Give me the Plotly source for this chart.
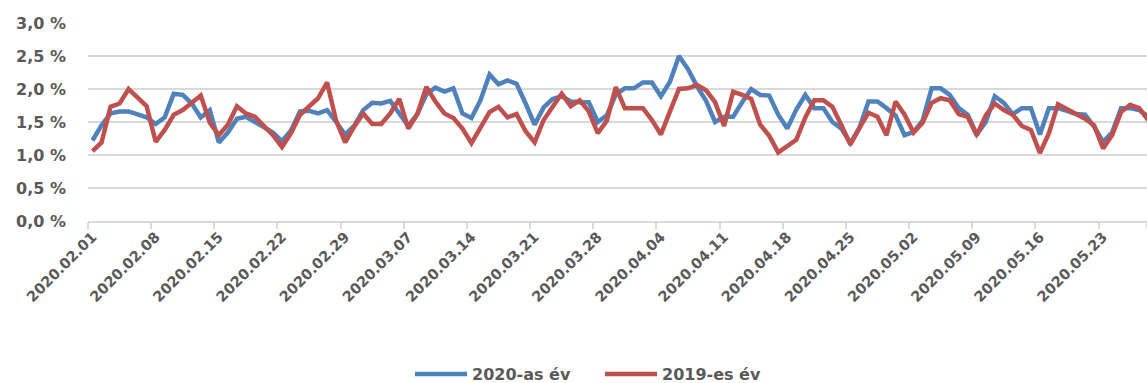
import pandas as pd
import plotly.graph_objects as go

# Daily dates, 2020.02.01 - 2020.05.28
dates = pd.date_range("2020-02-01", "2020-05-28", freq="D")

share_2020 = [
    1.22, 1.45, 1.63, 1.66, 1.66, 1.61, 1.57, 1.47, 1.57, 1.93,
    1.91, 1.78, 1.57, 1.68, 1.19, 1.34, 1.55, 1.58, 1.50, 1.43,
    1.34, 1.21, 1.37, 1.66, 1.67, 1.63, 1.68, 1.50, 1.31, 1.44,
    1.68, 1.79, 1.78, 1.82, 1.62, 1.44, 1.62, 1.92, 2.02, 1.96,
    2.01, 1.63, 1.56, 1.83, 2.22, 2.07, 2.13, 2.08, 1.78, 1.46,
    1.72, 1.85, 1.89, 1.81, 1.80, 1.80, 1.50, 1.60, 1.92, 2.01,
    2.01, 2.10, 2.10, 1.89, 2.11, 2.50, 2.30, 2.04, 1.82, 1.50,
    1.58, 1.58, 1.80, 2.00, 1.91, 1.90, 1.61, 1.40, 1.69, 1.91,
    1.71, 1.71, 1.50, 1.40, 1.18, 1.41, 1.81, 1.81, 1.71, 1.60,
    1.30, 1.35, 1.52, 2.01, 2.01, 1.91, 1.71, 1.61, 1.31, 1.50,
    1.89, 1.79, 1.62, 1.71, 1.71, 1.31, 1.71, 1.71, 1.67, 1.62,
    1.61, 1.43, 1.20, 1.34, 1.71, 1.71, 1.68, 1.58,
]

share_2019 = [
    1.06, 1.19, 1.73, 1.78, 2.00, 1.86, 1.74, 1.20, 1.38, 1.61,
    1.68, 1.79, 1.90, 1.49, 1.30, 1.46, 1.74, 1.63, 1.58, 1.44,
    1.30, 1.12, 1.33, 1.61, 1.73, 1.86, 2.10, 1.52, 1.19, 1.43,
    1.63, 1.47, 1.47, 1.63, 1.85, 1.40, 1.62, 2.03, 1.81, 1.63,
    1.56, 1.40, 1.18, 1.41, 1.65, 1.73, 1.57, 1.62, 1.36, 1.19,
    1.53, 1.73, 1.93, 1.74, 1.83, 1.66, 1.33, 1.52, 2.03, 1.71,
    1.71, 1.71, 1.53, 1.31, 1.66, 2.00, 2.01, 2.06, 1.98, 1.80,
    1.44, 1.96, 1.91, 1.85, 1.46, 1.29, 1.04, 1.13, 1.23, 1.57,
    1.83, 1.83, 1.73, 1.45, 1.16, 1.41, 1.64, 1.58, 1.30, 1.81,
    1.61, 1.34, 1.49, 1.79, 1.86, 1.83, 1.62, 1.58, 1.30, 1.60,
    1.78, 1.68, 1.61, 1.44, 1.38, 1.03, 1.33, 1.77, 1.69, 1.62,
    1.55, 1.45, 1.10, 1.30, 1.65, 1.76, 1.71, 1.53,
]

y_ticks = [0.0, 0.5, 1.0, 1.5, 2.0, 2.5, 3.0]
y_ticktext = [f"{v:.1f} %".replace(".", ",") for v in y_ticks]

x_tickvals = list(dates[::7])
x_ticktext = [d.strftime("%Y.%m.%d") for d in x_tickvals]

TEXT = "#595959"
GRID = "#D9D9D9"
FONT = "DejaVu Sans"

fig = go.Figure()
fig.add_trace(go.Scatter(
    x=dates, y=share_2020, mode="lines", name="2020-as év",
    line=dict(color="#4F81BD", width=4.5),
))
fig.add_trace(go.Scatter(
    x=dates, y=share_2019, mode="lines", name="2019-es év",
    line=dict(color="#C0504D", width=4.5),
))

x_start = pd.Timestamp("2020-01-31 12:00")
x_end = x_start + pd.Timedelta(days=117.37)

fig.update_layout(
    width=1147, height=383,
    margin=dict(l=88, r=0, t=23, b=162),
    paper_bgcolor="white", plot_bgcolor="white",
    font=dict(family=FONT, color=TEXT, size=16, weight="bold"),
    showlegend=True,
    legend=dict(
        orientation="h", x=410 / 1147, xanchor="left",
        y=9 / 383, yanchor="middle",
        xref="container", yref="container",
        font=dict(family=FONT, color=TEXT, size=16, weight="bold"),
        itemwidth=52, entrywidth=123, entrywidthmode="pixels",
    ),
    xaxis=dict(
        range=[x_start, x_end],
        tickvals=x_tickvals, ticktext=x_ticktext, tickangle=-45,
        ticks="", showgrid=False,
        showline=True, linecolor=GRID, linewidth=1.5,
        tickfont=dict(family=FONT, color=TEXT, size=14.5, weight="bold"),
        minor=dict(
            tickvals=[d - pd.Timedelta(hours=12) for d in x_tickvals] + [x_end],
            ticks="outside", ticklen=6, tickwidth=1.5, tickcolor=GRID,
            showgrid=False,
        ),
    ),
    yaxis=dict(
        range=[0, 3.0], tickvals=y_ticks, ticktext=y_ticktext,
        showgrid=True, gridcolor=GRID, gridwidth=1.5,
        zeroline=False, showline=False, ticks="",
        ticklabelstandoff=21,
        tickfont=dict(family=FONT, color=TEXT, size=16, weight="bold"),
    ),
)

fig.write_html("out.html")
